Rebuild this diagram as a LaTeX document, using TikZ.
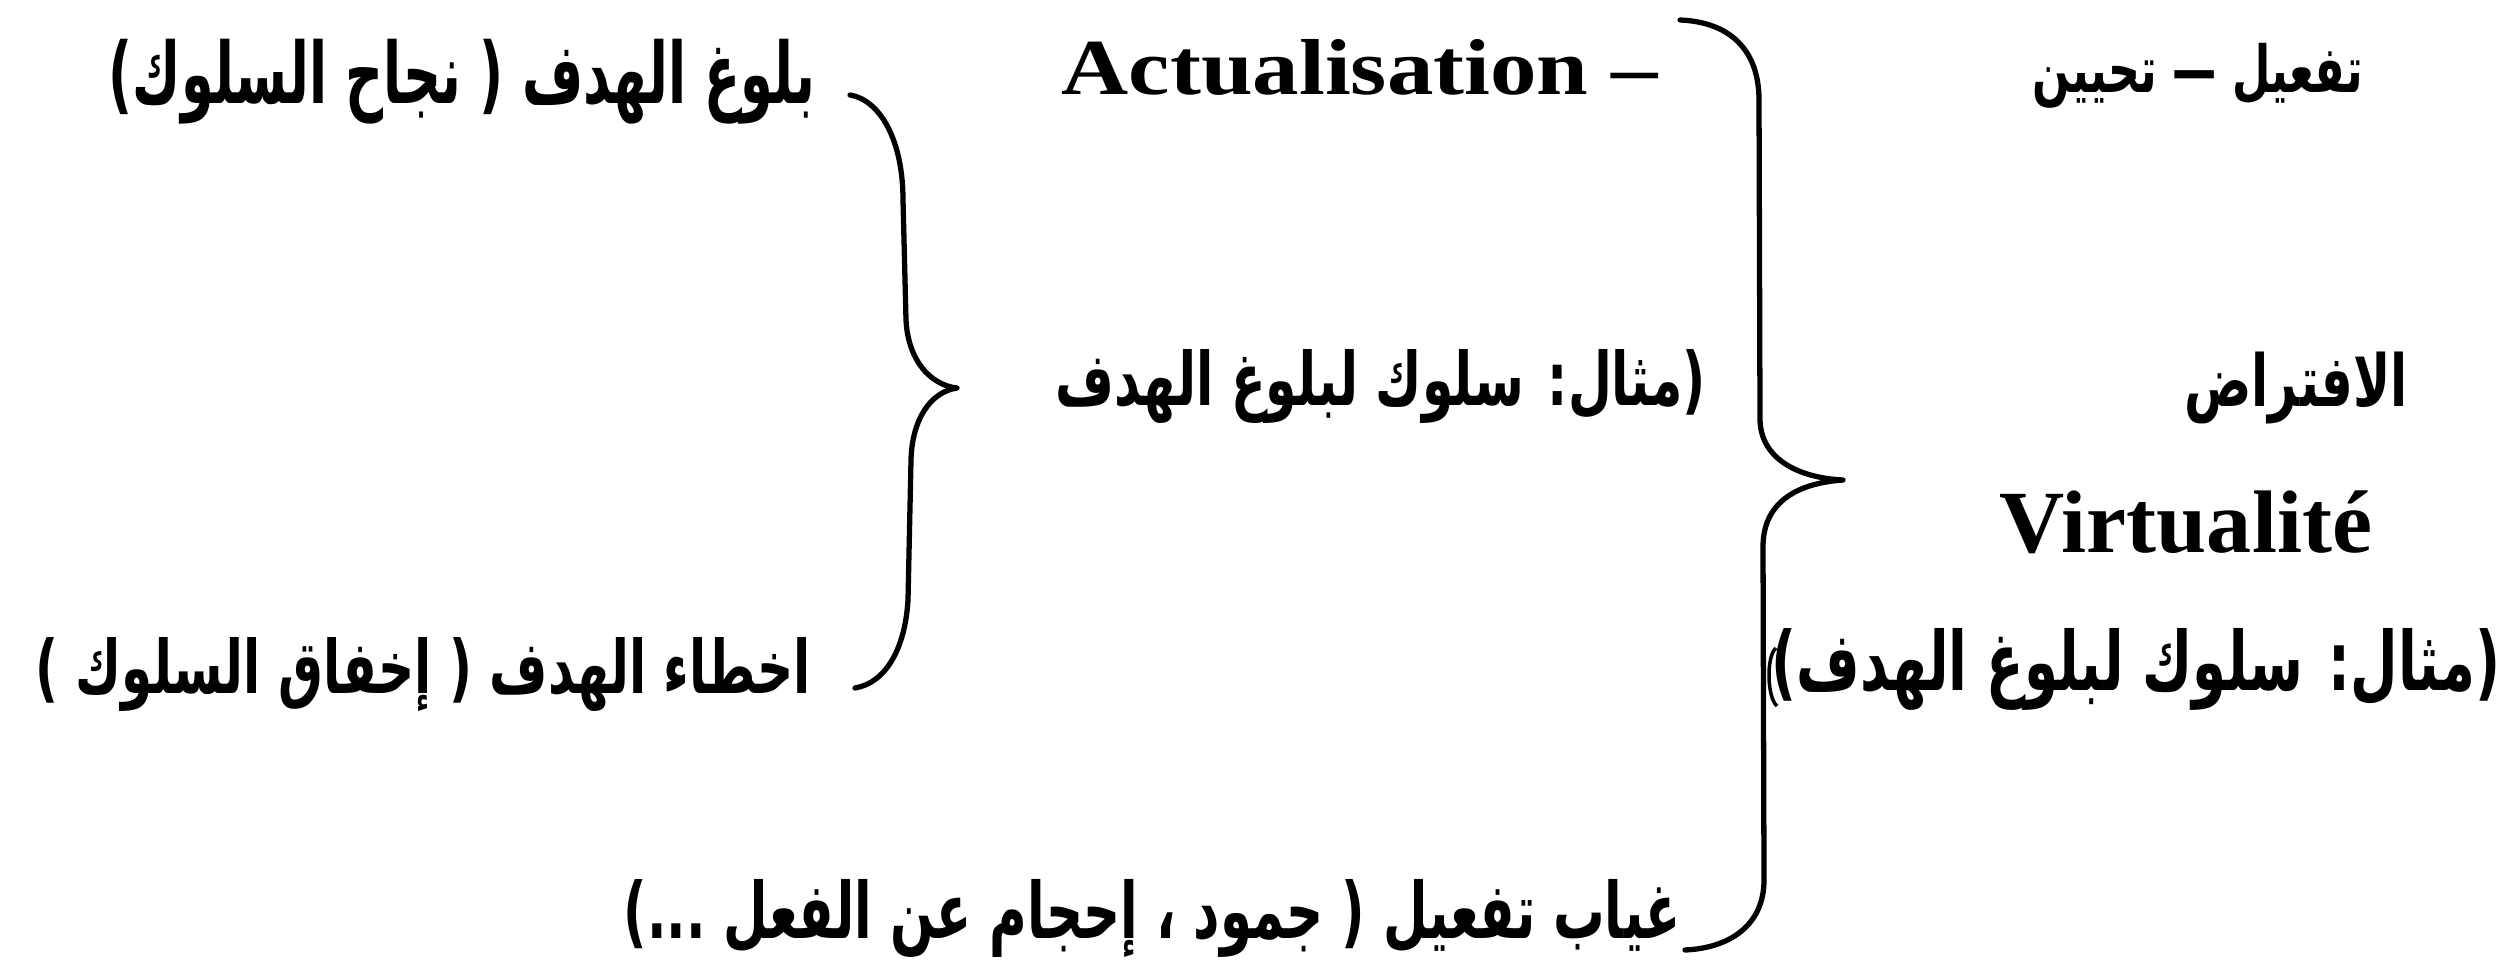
\documentclass[tikz,border=0pt]{standalone}
\usepackage{fontspec}
\usepackage{graphicx}
\setmainfont{Liberation Serif}
\newfontfamily\arabicfont[Script=Arabic]{DejaVu Sans}
\TeXXeTstate=1
\newcommand{\fitbox}[3]{\resizebox*{#1mm}{#2mm}{#3}}
\newcommand{\ar}[1]{{\arabicfont\bfseries\beginR #1\endR}}
\tikzset{
  lbl/.style={inner sep=0pt, outer sep=0pt, anchor=center},
  brace/.style={line width=1.5pt, line cap=round, line join=round}
}
\begin{document}
\begin{tikzpicture}[x=0.01cm, y=-0.01cm]
\useasboundingbox (0,0) rectangle (2509,970);
% texts
\node[lbl] (succ) at (462,82) {\fitbox{70.6}{8.5}{\ar{بلوغ الهدف ( نجاح السلوك)}}};
\node[lbl] (actu) at (1360,67) {\fitbox{59.6}{5.6}{\bfseries Actualisation –}};
\node[lbl] (tafil) at (2198,76) {\fitbox{33.0}{6.5}{\ar{تفعيل — تحيين}}};
\node[lbl] (ex1) at (1381,387) {\fitbox{65.0}{7.4}{\ar{(مثال: سلوك لبلوغ الهدف}}};
\node[lbl] (iftirad) at (2296,388) {\fitbox{22.3}{7.2}{\ar{الافتراض}}};
\node[lbl] (virt) at (2186,522) {\fitbox{37.2}{6.3}{\bfseries Virtualité}};
\node[lbl] (ex2) at (2136,669) {\fitbox{72.8}{8.2}{\ar{(مثال: سلوك لبلوغ الهدف)}}};
\node[lbl] (fail) at (423,675) {\fitbox{77.5}{7.4}{\ar{اخطاء الهدف ( إخفاق السلوك )}}};
\node[lbl] (absent) at (1152,918) {\fitbox{105.6}{7.8}{\ar{غياب تفعيل ( جمود ، إحجام عن الفعل ...)}}};
% left brace
\coordinate (lbTop) at (850,95);
\coordinate (lbA) at (903,200);
\coordinate (lbB) at (906,320);
\coordinate (lbTip) at (957,388);
\coordinate (lbC) at (911,460);
\coordinate (lbD) at (908,600);
\coordinate (lbBot) at (855,688);
\draw[brace] (lbTop) .. controls +(30,5) and +(0,-60) .. (lbA) -- (lbB)
  .. controls +(2,40) and +(-27,-3) .. (lbTip)
  .. controls +(-27,4) and +(1,-40) .. (lbC) -- (lbD)
  .. controls +(-3,50) and +(30,-5) .. (lbBot);
% big brace
\coordinate (bbTop) at (1680,20);
\coordinate (bbA) at (1759,100);
\coordinate (bbB) at (1760,420);
\coordinate (bbTip) at (1843,480);
\coordinate (bbC) at (1763,545);
\coordinate (bbD) at (1764,880);
\coordinate (bbBot) at (1685,950);
\draw[brace] (bbTop) .. controls +(50,2) and +(0,-50) .. (bbA) -- (bbB)
  .. controls +(1,40) and +(-43,-2) .. (bbTip)
  .. controls +(-43,3) and +(1,-45) .. (bbC) -- (bbD)
  .. controls +(0,45) and +(45,-2) .. (bbBot);
% small kink on the big brace
\coordinate (kA) at (1776,648);
\coordinate (kB) at (1777,706);
\draw[line width=1pt] (kA) .. controls +(-10,8) and +(-10,-8) .. (kB);
\end{tikzpicture}
\end{document}
